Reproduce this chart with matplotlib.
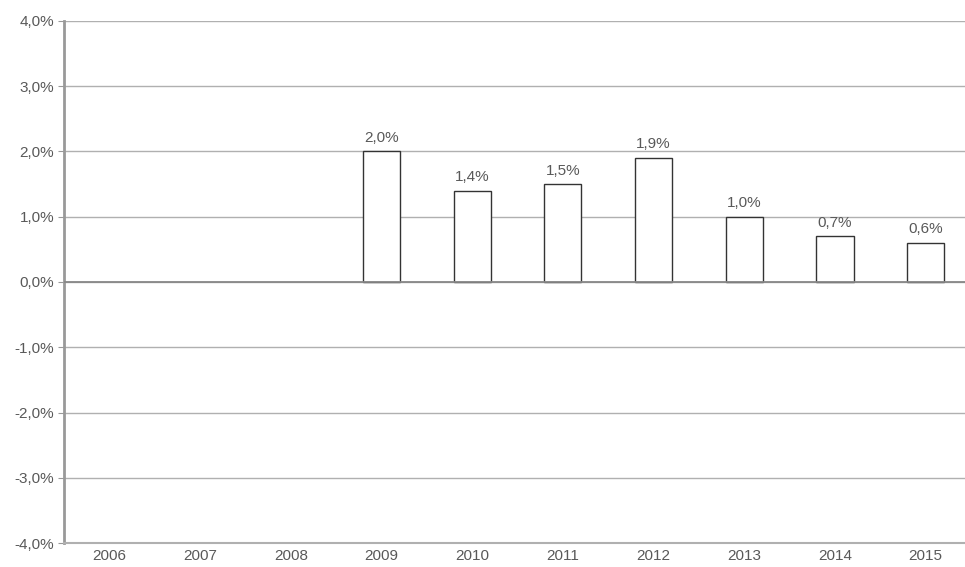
import numpy as np
import matplotlib.pyplot as plt
from matplotlib.ticker import FuncFormatter

years = ["2006", "2007", "2008", "2009", "2010", "2011", "2012", "2013", "2014", "2015"]
values = [np.nan, np.nan, np.nan, 2.0, 1.4, 1.5, 1.9, 1.0, 0.7, 0.6]
y_ticks = [-4, -3, -2, -1, 0, 1, 2, 3, 4]

plt.rcParams["font.family"] = ["Liberation Sans", "DejaVu Sans"]
text_color = "#595959"

fig = plt.figure(figsize=(9.65, 5.67), dpi=100)
ax = fig.add_axes([0.0663, 0.0423, 0.940, 0.9207])

x = np.arange(len(years))
ax.bar(x, values, width=0.41, color="white", edgecolor="#333333", linewidth=1.0, zorder=3)

for xi, v in zip(x, values):
    if not np.isnan(v):
        ax.text(xi, v + 0.1, f"{v:.1f}%".replace(".", ","), ha="center", va="bottom",
                fontsize=11, color=text_color)

ax.set_xlim(-0.5, len(years) - 0.5)
ax.set_ylim(-4, 4)
ax.set_yticks(y_ticks)
ax.yaxis.set_major_formatter(FuncFormatter(lambda v, p: f"{v:.1f}%".replace(".", ",")))
ax.set_xticks(x)
ax.set_xticklabels(years)

ax.grid(axis="y", color="#b0b0b0", linewidth=1.0, zorder=0)
ax.axhline(0, color="#888888", linewidth=1.3, zorder=4)

for s in ["top", "right"]:
    ax.spines[s].set_visible(False)
ax.spines["left"].set_color("#999999")
ax.spines["left"].set_linewidth(2)
ax.spines["bottom"].set_color("#b0b0b0")
ax.spines["bottom"].set_linewidth(1.5)

ax.tick_params(axis="y", length=4, color="#999999", labelcolor=text_color, labelsize=11, pad=3)
ax.tick_params(axis="x", length=0, labelcolor=text_color, labelsize=11, pad=4)

fig.savefig("out.png", dpi=100)
